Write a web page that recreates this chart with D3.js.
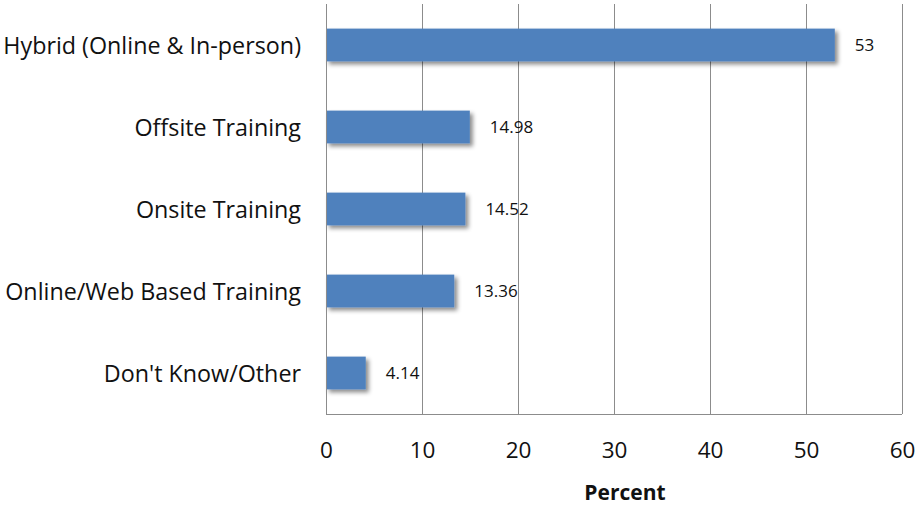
<!DOCTYPE html>
<html>
<head>
<meta charset="utf-8">
<script src="https://cdn.jsdelivr.net/npm/d3@7"></script>
<style>
  body { margin: 0; background: #fff; }
  text { font-family: "Open Sans", "DejaVu Sans", sans-serif; fill: #111; }
</style>
</head>
<body>
<script>
// Data
var categories = ["Hybrid (Online & In-person)", "Offsite Training", "Onsite Training",
  "Online/Web Based Training", "Don't Know/Other"];
var percents = [53, 14.98, 14.52, 13.36, 4.14];
var valueLabels = ["53", "14.98", "14.52", "13.36", "4.14"];
var xTicks = [0, 10, 20, 30, 40, 50, 60];

var svgWidth = 916;
var svgHeight = 506;

var chartMargin = { top: 4, right: 14, bottom: 92, left: 326 };
var chartWidth = svgWidth - chartMargin.left - chartMargin.right;
var chartHeight = svgHeight - chartMargin.top - chartMargin.bottom;

var svg = d3.select("body")
  .append("svg")
  .attr("width", svgWidth)
  .attr("height", svgHeight);

// drop shadow behind the bars
var defs = svg.append("defs");
var filter = defs.append("filter")
  .attr("id", "shadow")
  .attr("x", "-10%").attr("y", "-30%")
  .attr("width", "130%").attr("height", "180%");
filter.append("feDropShadow")
  .attr("dx", 3).attr("dy", 3)
  .attr("stdDeviation", 2)
  .attr("flood-color", "#000")
  .attr("flood-opacity", 0.45);

var chartGroup = svg.append("g")
  .attr("transform", `translate(${chartMargin.left}, ${chartMargin.top})`);

var xScale = d3.scaleLinear()
  .domain([0, 60])
  .range([0, chartWidth]);

var yScale = d3.scaleBand()
  .domain(categories)
  .range([0, chartHeight])
  .paddingInner(0.6)
  .paddingOuter(0.3);

// vertical gridlines
chartGroup.append("g")
  .selectAll("line")
  .data(xTicks.slice(1))
  .enter()
  .append("line")
  .attr("x1", d => Math.round(xScale(d)) + 0.5)
  .attr("x2", d => Math.round(xScale(d)) + 0.5)
  .attr("y1", 0)
  .attr("y2", chartHeight)
  .attr("stroke", "#8c8c8c")
  .attr("stroke-width", 1);

// bars
chartGroup.selectAll(".bar")
  .data(percents)
  .enter()
  .append("rect")
  .attr("class", "bar")
  .attr("x", 0)
  .attr("y", (d, i) => yScale(categories[i]))
  .attr("width", d => xScale(d))
  .attr("height", yScale.bandwidth())
  .attr("fill", "#4f81bd")
  .attr("filter", "url(#shadow)");

// value labels
chartGroup.selectAll(".val")
  .data(percents)
  .enter()
  .append("text")
  .attr("class", "val")
  .attr("x", d => xScale(d) + 20)
  .attr("y", (d, i) => yScale(categories[i]) + yScale.bandwidth() / 2)
  .attr("dy", "0.35em")
  .style("font-size", "17px")
  .text((d, i) => valueLabels[i]);

// left axis (category labels)
var leftAxis = d3.axisLeft(yScale).tickSize(0).tickPadding(25);
var yAxisG = chartGroup.append("g").call(leftAxis);
yAxisG.select(".domain").remove();
yAxisG.selectAll("text")
  .style("font-size", "23.3px")
  .attr("dy", "0.4em")
  .attr("fill", "#111");

chartGroup.append("line")
  .attr("x1", 0.5).attr("x2", 0.5)
  .attr("y1", 0).attr("y2", chartHeight)
  .attr("stroke", "#8c8c8c");

// bottom axis
var bottomAxis = d3.axisBottom(xScale).tickValues(xTicks).tickSize(0).tickPadding(28);
var xAxisG = chartGroup.append("g")
  .attr("transform", `translate(0, ${chartHeight})`)
  .call(bottomAxis);
xAxisG.select(".domain").remove();
xAxisG.selectAll("text")
  .style("font-size", "22.5px")
  .attr("fill", "#222");

chartGroup.append("line")
  .attr("x1", 0).attr("x2", chartWidth)
  .attr("y1", chartHeight + 0.5).attr("y2", chartHeight + 0.5)
  .attr("stroke", "#8c8c8c");

// axis title
svg.append("text")
  .attr("x", 625)
  .attr("y", 500)
  .style("text-anchor", "middle")
  .style("font-size", "21px")
  .style("font-weight", "bold")
  .text("Percent");
</script>
</body>
</html>
